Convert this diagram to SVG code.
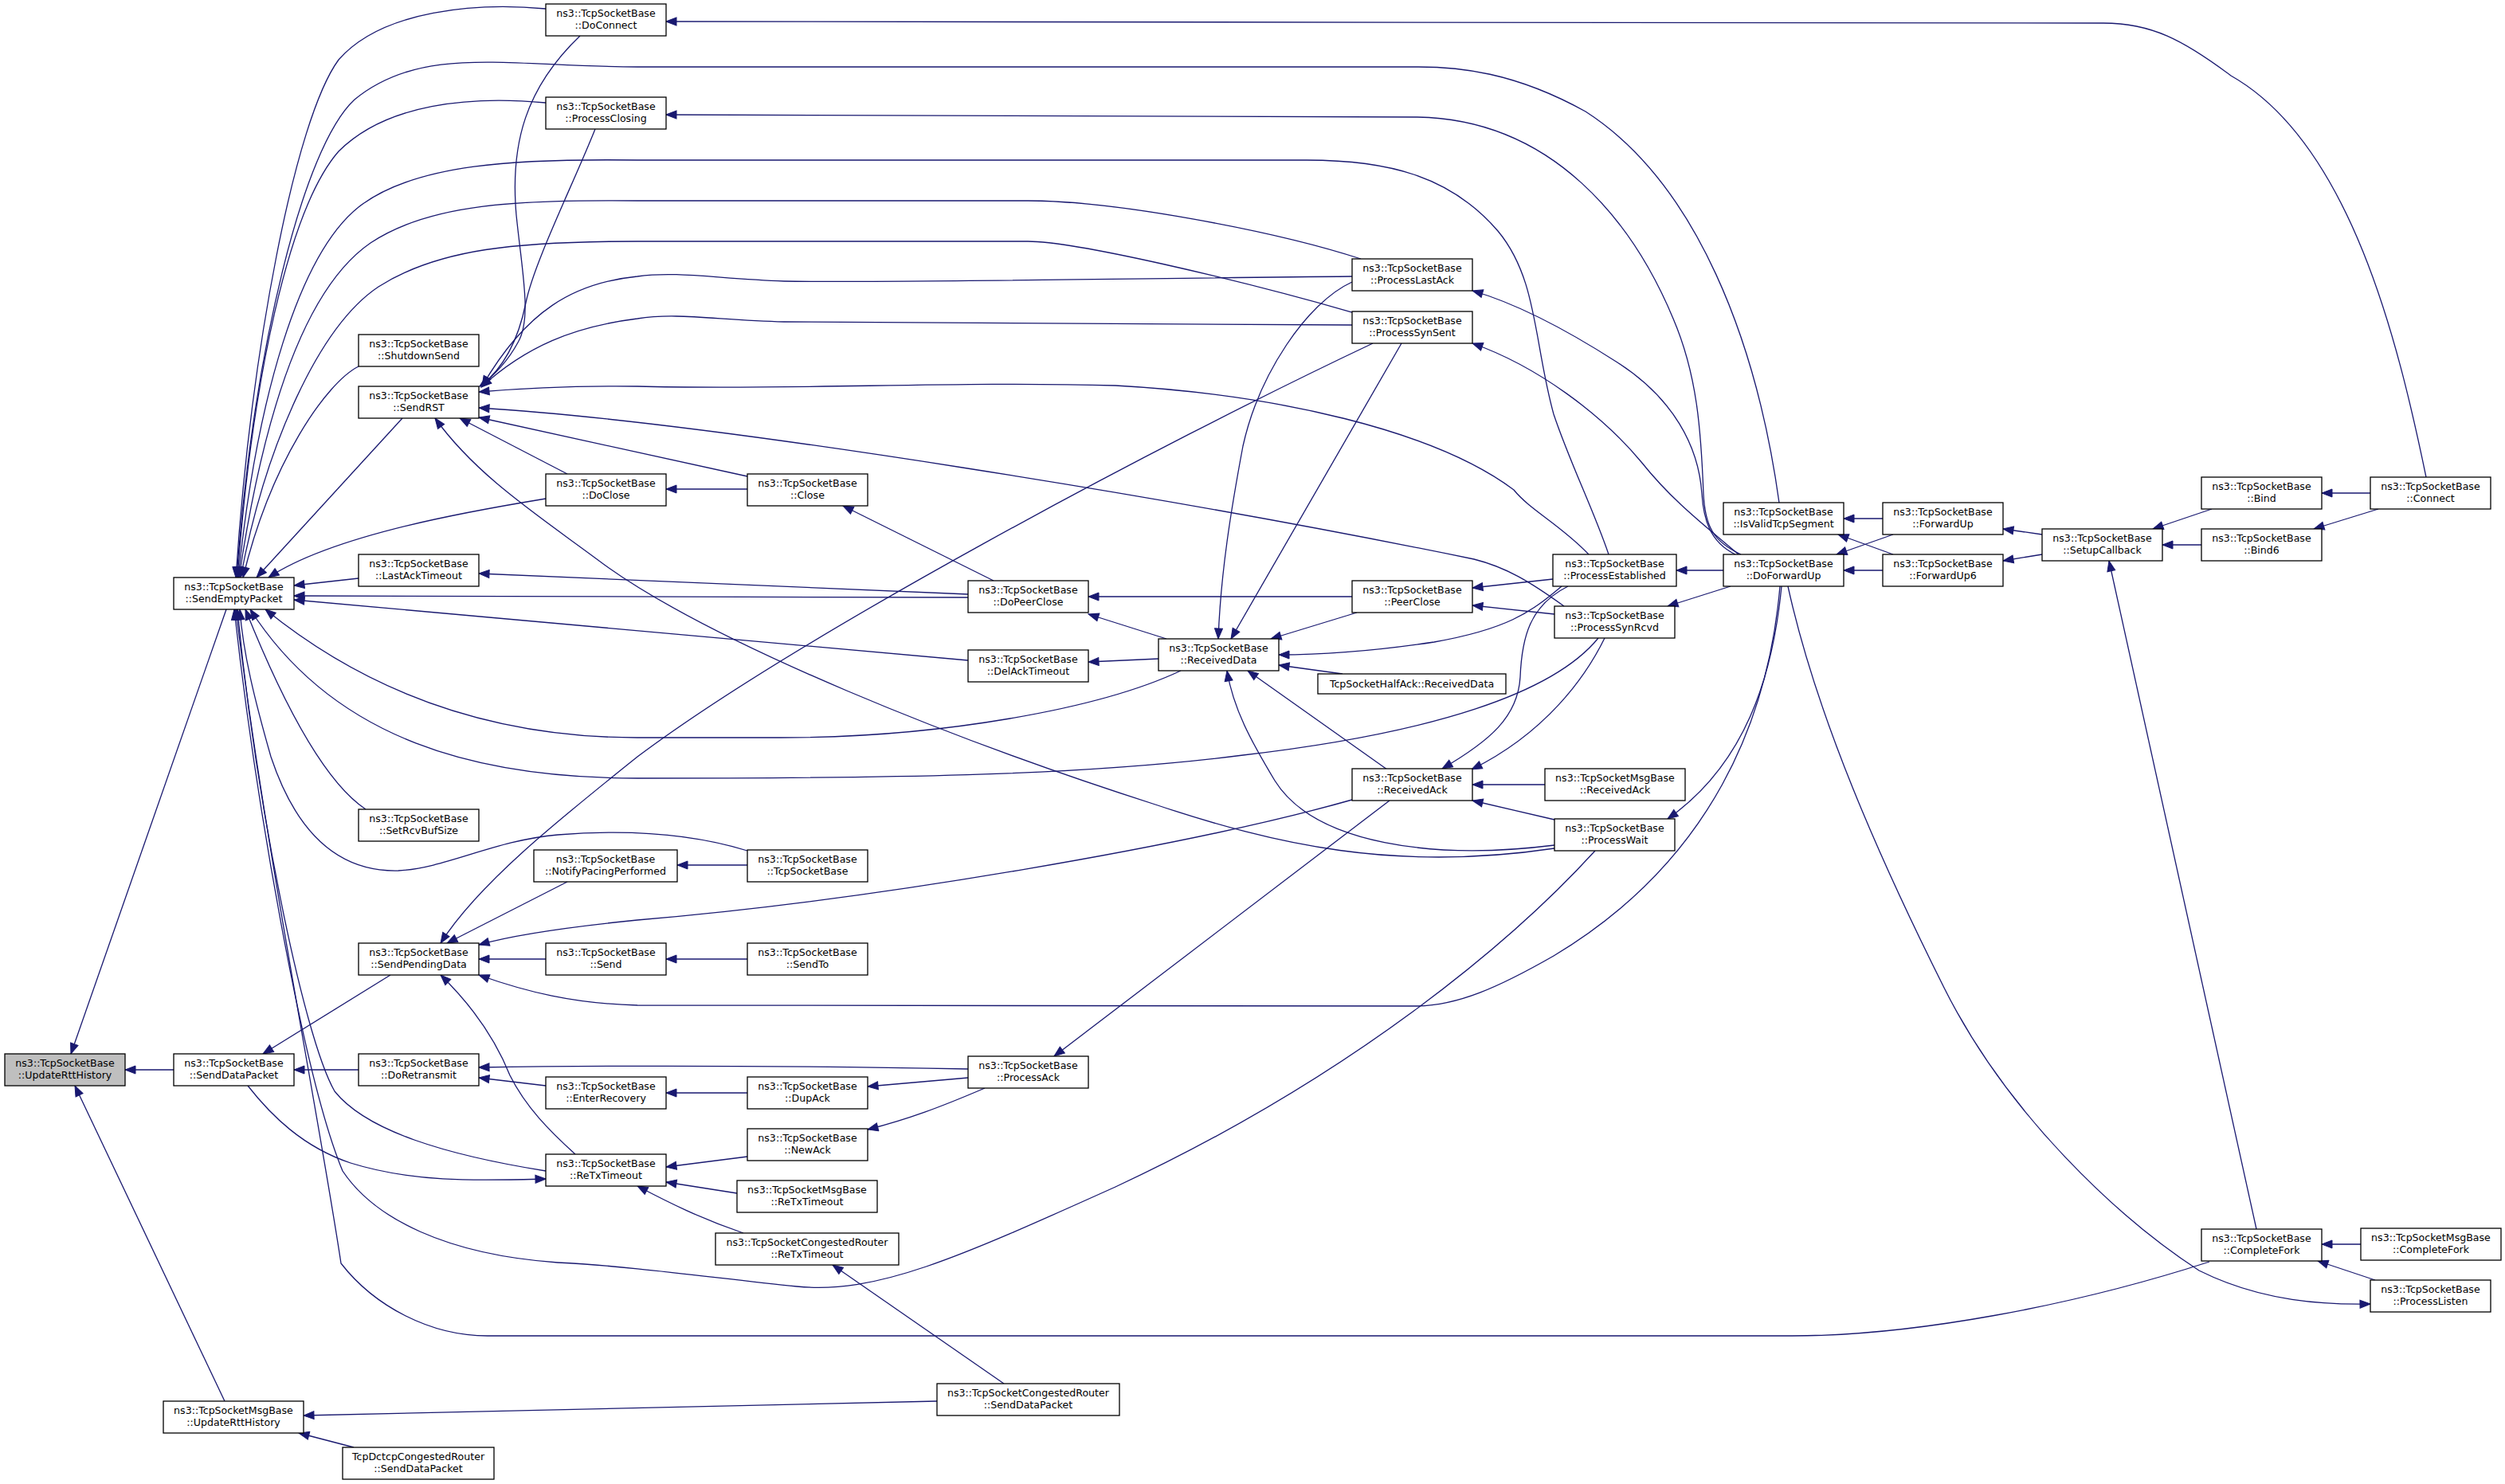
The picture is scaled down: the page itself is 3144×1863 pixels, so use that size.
<svg xmlns="http://www.w3.org/2000/svg" width="3144" height="1863" viewBox="0 0 3144 1863">
<defs>
<style>
.n rect{fill:#fff;stroke:#000;stroke-width:1.3}
.root rect{fill:#bfbfbf}
text{font-family:"DejaVu Sans","Liberation Sans",sans-serif;font-size:12.6px;text-anchor:middle;fill:#000}
#edges path{fill:none;stroke:#191970;stroke-width:1.3;marker-end:url(#arr)}
</style>
<marker id="arr" markerUnits="userSpaceOnUse" markerWidth="15" markerHeight="12" viewBox="0 0 15 12" refX="14" refY="6" orient="auto">
<path d="M1,1 L14,6 L1,11 Z" fill="#191970" stroke="#191970" stroke-width="1"/>
</marker>
</defs>
<rect width="3144" height="1863" fill="#fff"/>
<g id="edges">
<path d="M284,765 L89,1323"/>
<path d="M218,1343 L157,1343"/>
<path d="M282,1759 L94,1363"/>
<path d="M685,11 C600,3 480,12 425,75 C370,150 315,440 296,725"/>
<path d="M2233,631 C2205,430 2130,230 1990,140 C1900,90 1830,84 1780,84 L800,84 C640,84 530,55 445,125 C380,185 318,440 297,725"/>
<path d="M685,129 C590,120 485,130 425,190 C362,262 316,480 298,725"/>
<path d="M2019,696 C2000,640 1970,580 1950,520 C1925,430 1930,350 1880,290 C1820,220 1740,201 1640,201 L800,201 C650,199 520,205 450,260 C375,320 322,500 299,725"/>
<path d="M1708,325 C1600,290 1400,252 1290,252 L800,252 C650,251 540,255 465,305 C385,360 332,510 300,725"/>
<path d="M1697,392 C1550,350 1350,303 1290,303 L800,303 C650,303 550,312 475,360 C400,410 333,560 302,725"/>
<path d="M450,460 C410,480 340,580 305,725"/>
<path d="M505,525 L322,725"/>
<path d="M685,626 C600,640 420,670 337,725"/>
<path d="M450,726 L369,735"/>
<path d="M1215,750 L369,748"/>
<path d="M1215,829 L369,753"/>
<path d="M1215,746 L601,720"/>
<path d="M1482,842 C1380,890 1180,926 980,926 L800,926 C600,926 450,860 333,765"/>
<path d="M2006,801 C1950,870 1800,920 1560,948 C1350,975 1100,977 800,977 C600,977 420,930 314,765"/>
<path d="M459,1016 C420,990 370,920 308,765"/>
<path d="M938,1068 C880,1050 800,1040 700,1048 C620,1055 560,1090 500,1093 C420,1095 370,1040 340,950 C320,880 305,820 301,765"/>
<path d="M685,1470 C560,1450 460,1420 420,1370 C380,1300 320,1000 298,765"/>
<path d="M2002,1068 C1900,1180 1700,1350 1400,1490 C1200,1580 1100,1625 1000,1615 C900,1605 800,1590 700,1585 C560,1575 470,1530 430,1470 C380,1350 320,1000 294,765"/>
<path d="M2773,1584 C2600,1640 2400,1677 2249,1677 L612,1677 C540,1677 470,1640 428,1586 C400,1400 330,1050 296,765"/>
<path d="M1697,347 C1400,350 1100,355 984,353 C900,350 850,340 800,347 C720,355 660,390 605,485"/>
<path d="M1697,408 L984,404 C900,402 850,392 800,400 C720,410 660,435 604,486"/>
<path d="M728,45 C660,110 640,180 648,270 C655,340 668,400 650,430 C638,452 622,470 602,485"/>
<path d="M747,162 C720,230 670,330 660,380 C652,420 635,460 603,485"/>
<path d="M1994,696 C1960,660 1920,640 1900,615 C1800,540 1600,495 1400,484 C1200,478 1000,490 800,485 C720,484 660,487 601,492"/>
<path d="M1963,761 C1920,730 1890,712 1850,702 C1500,630 900,530 601,512"/>
<path d="M938,598 L601,524"/>
<path d="M712,595 L577,525"/>
<path d="M1951,1065 C1750,1095 1600,1060 1450,1010 C1200,930 900,810 760,710 C680,650 600,600 546,525"/>
<path d="M1697,354 C1640,380 1580,470 1560,560 C1545,640 1532,720 1529,802"/>
<path d="M1759,431 L1545,802"/>
<path d="M1723,431 C1450,560 1000,800 800,950 C700,1030 600,1110 553,1184"/>
<path d="M1703,769 L1595,802"/>
<path d="M1960,736 C1920,770 1890,790 1800,806 C1720,818 1660,822 1605,822"/>
<path d="M1685,846 L1605,835"/>
<path d="M1741,966 L1566,842"/>
<path d="M1951,1061 C1800,1080 1650,1060 1600,980 C1570,930 1548,890 1540,842"/>
<path d="M1464,802 L1366,771"/>
<path d="M1454,827 L1366,831"/>
<path d="M1247,729 L1058,635"/>
<path d="M938,614 L836,614"/>
<path d="M1697,749 L1366,749"/>
<path d="M1949,727 L1848,738"/>
<path d="M1951,771 L1848,760"/>
<path d="M1968,736 C1920,760 1910,800 1908,850 C1905,900 1870,930 1810,965"/>
<path d="M2014,801 C1990,850 1940,920 1847,966"/>
<path d="M1939,985 L1848,985"/>
<path d="M1951,1029 L1848,1005"/>
<path d="M1744,1005 L1323,1326"/>
<path d="M1697,1004 C1500,1060 1100,1130 800,1155 C700,1165 640,1175 601,1186"/>
<path d="M2234,736 C2220,900 2150,1080 1950,1200 C1880,1240 1830,1262 1779,1263 L800,1262 C720,1260 660,1245 601,1224"/>
<path d="M2163,716 L2104,716"/>
<path d="M2172,736 L2093,761"/>
<path d="M2236,736 C2225,850 2190,960 2093,1028"/>
<path d="M2178,696 C2145,680 2138,650 2136,620 C2132,560 2100,500 2030,455 C1960,410 1900,380 1848,365"/>
<path d="M2182,696 C2140,660 2100,630 2060,580 C2010,520 1930,460 1848,431"/>
<path d="M2185,696 C2150,680 2140,660 2138,620 C2135,540 2130,470 2100,400 C2050,280 1950,150 1779,147 L836,144"/>
<path d="M2244,736 C2280,900 2360,1080 2440,1240 C2520,1400 2660,1530 2760,1595 C2840,1635 2920,1638 2975,1637"/>
<path d="M3045,599 C3010,430 2950,180 2800,95 C2740,50 2700,29 2640,29 L836,27"/>
<path d="M2363,651 L2314,651"/>
<path d="M2376,696 L2307,671"/>
<path d="M2376,671 L2305,696"/>
<path d="M2363,716 L2314,716"/>
<path d="M2563,671 L2514,664"/>
<path d="M2563,696 L2514,704"/>
<path d="M2776,639 L2702,664"/>
<path d="M2763,684 L2714,684"/>
<path d="M2975,619 L2914,619"/>
<path d="M2985,639 L2904,664"/>
<path d="M2832,1543 L2647,704"/>
<path d="M2963,1562 L2914,1562"/>
<path d="M2981,1607 L2909,1583"/>
<path d="M490,1224 L330,1323"/>
<path d="M722,1449 C690,1420 660,1390 640,1350 C620,1300 590,1260 553,1224"/>
<path d="M311,1363 C340,1400 380,1440 440,1460 C520,1485 600,1482 685,1480"/>
<path d="M450,1343 L369,1343"/>
<path d="M1215,1342 C1000,1338 800,1337 601,1340"/>
<path d="M685,1363 L601,1353"/>
<path d="M938,1372 L836,1372"/>
<path d="M1215,1353 L1089,1364"/>
<path d="M1236,1366 C1180,1390 1140,1405 1089,1418"/>
<path d="M938,1452 L836,1465"/>
<path d="M925,1498 L836,1484"/>
<path d="M933,1548 C880,1530 840,1510 800,1489"/>
<path d="M1260,1737 L1045,1588"/>
<path d="M1176,1759 C1000,1762 700,1768 381,1777"/>
<path d="M444,1817 L375,1799"/>
<path d="M685,1204 L601,1204"/>
<path d="M938,1204 L836,1204"/>
<path d="M712,1107 L561,1184"/>
<path d="M938,1086 L850,1086"/>
</g>
<g id="n_root" class="n root"><rect x="6" y="1323" width="151" height="40"/><text x="81.5" y="1339.2">ns3::TcpSocketBase</text><text x="81.5" y="1353.9">::UpdateRttHistory</text></g>
<g id="n_SendEmptyPacket" class="n"><rect x="218" y="725" width="151" height="40"/><text x="293.5" y="741.2">ns3::TcpSocketBase</text><text x="293.5" y="755.9">::SendEmptyPacket</text></g>
<g id="n_SendDataPacket" class="n"><rect x="218" y="1323" width="151" height="40"/><text x="293.5" y="1339.2">ns3::TcpSocketBase</text><text x="293.5" y="1353.9">::SendDataPacket</text></g>
<g id="n_MsgUpdateRttHistory" class="n"><rect x="205" y="1759" width="176" height="40"/><text x="293" y="1775.2">ns3::TcpSocketMsgBase</text><text x="293" y="1789.9">::UpdateRttHistory</text></g>
<g id="n_ShutdownSend" class="n"><rect x="450" y="420" width="151" height="40"/><text x="525.5" y="436.2">ns3::TcpSocketBase</text><text x="525.5" y="450.9">::ShutdownSend</text></g>
<g id="n_SendRST" class="n"><rect x="450" y="485" width="151" height="40"/><text x="525.5" y="501.2">ns3::TcpSocketBase</text><text x="525.5" y="515.9">::SendRST</text></g>
<g id="n_LastAckTimeout" class="n"><rect x="450" y="696" width="151" height="40"/><text x="525.5" y="712.2">ns3::TcpSocketBase</text><text x="525.5" y="726.9">::LastAckTimeout</text></g>
<g id="n_SetRcvBufSize" class="n"><rect x="450" y="1016" width="151" height="40"/><text x="525.5" y="1032.2">ns3::TcpSocketBase</text><text x="525.5" y="1046.9">::SetRcvBufSize</text></g>
<g id="n_SendPendingData" class="n"><rect x="450" y="1184" width="151" height="40"/><text x="525.5" y="1200.2">ns3::TcpSocketBase</text><text x="525.5" y="1214.9">::SendPendingData</text></g>
<g id="n_DoRetransmit" class="n"><rect x="450" y="1323" width="151" height="40"/><text x="525.5" y="1339.2">ns3::TcpSocketBase</text><text x="525.5" y="1353.9">::DoRetransmit</text></g>
<g id="n_DctcpSendDataPacket" class="n"><rect x="430" y="1817" width="190" height="40"/><text x="525" y="1833.2">TcpDctcpCongestedRouter</text><text x="525" y="1847.9">::SendDataPacket</text></g>
<g id="n_DoConnect" class="n"><rect x="685" y="5" width="151" height="40"/><text x="760.5" y="21.2">ns3::TcpSocketBase</text><text x="760.5" y="35.9">::DoConnect</text></g>
<g id="n_ProcessClosing" class="n"><rect x="685" y="122" width="151" height="40"/><text x="760.5" y="138.2">ns3::TcpSocketBase</text><text x="760.5" y="152.9">::ProcessClosing</text></g>
<g id="n_DoClose" class="n"><rect x="685" y="595" width="151" height="40"/><text x="760.5" y="611.2">ns3::TcpSocketBase</text><text x="760.5" y="625.9">::DoClose</text></g>
<g id="n_NotifyPacingPerformed" class="n"><rect x="670" y="1067" width="180" height="40"/><text x="760" y="1083.2">ns3::TcpSocketBase</text><text x="760" y="1097.9">::NotifyPacingPerformed</text></g>
<g id="n_Send" class="n"><rect x="685" y="1184" width="151" height="40"/><text x="760.5" y="1200.2">ns3::TcpSocketBase</text><text x="760.5" y="1214.9">::Send</text></g>
<g id="n_EnterRecovery" class="n"><rect x="685" y="1352" width="151" height="40"/><text x="760.5" y="1368.2">ns3::TcpSocketBase</text><text x="760.5" y="1382.9">::EnterRecovery</text></g>
<g id="n_ReTxTimeout" class="n"><rect x="685" y="1449" width="151" height="40"/><text x="760.5" y="1465.2">ns3::TcpSocketBase</text><text x="760.5" y="1479.9">::ReTxTimeout</text></g>
<g id="n_Close" class="n"><rect x="938" y="595" width="151" height="40"/><text x="1013.5" y="611.2">ns3::TcpSocketBase</text><text x="1013.5" y="625.9">::Close</text></g>
<g id="n_TcpSocketBaseCtor" class="n"><rect x="938" y="1067" width="151" height="40"/><text x="1013.5" y="1083.2">ns3::TcpSocketBase</text><text x="1013.5" y="1097.9">::TcpSocketBase</text></g>
<g id="n_SendTo" class="n"><rect x="938" y="1184" width="151" height="40"/><text x="1013.5" y="1200.2">ns3::TcpSocketBase</text><text x="1013.5" y="1214.9">::SendTo</text></g>
<g id="n_DupAck" class="n"><rect x="938" y="1352" width="151" height="40"/><text x="1013.5" y="1368.2">ns3::TcpSocketBase</text><text x="1013.5" y="1382.9">::DupAck</text></g>
<g id="n_NewAck" class="n"><rect x="938" y="1417" width="151" height="40"/><text x="1013.5" y="1433.2">ns3::TcpSocketBase</text><text x="1013.5" y="1447.9">::NewAck</text></g>
<g id="n_MsgReTxTimeout" class="n"><rect x="925" y="1482" width="176" height="40"/><text x="1013" y="1498.2">ns3::TcpSocketMsgBase</text><text x="1013" y="1512.9">::ReTxTimeout</text></g>
<g id="n_CongReTxTimeout" class="n"><rect x="898" y="1548" width="230" height="40"/><text x="1013" y="1564.2">ns3::TcpSocketCongestedRouter</text><text x="1013" y="1578.9">::ReTxTimeout</text></g>
<g id="n_DoPeerClose" class="n"><rect x="1215" y="729" width="151" height="40"/><text x="1290.5" y="745.2">ns3::TcpSocketBase</text><text x="1290.5" y="759.9">::DoPeerClose</text></g>
<g id="n_DelAckTimeout" class="n"><rect x="1215" y="816" width="151" height="40"/><text x="1290.5" y="832.2">ns3::TcpSocketBase</text><text x="1290.5" y="846.9">::DelAckTimeout</text></g>
<g id="n_ProcessAck" class="n"><rect x="1215" y="1326" width="151" height="40"/><text x="1290.5" y="1342.2">ns3::TcpSocketBase</text><text x="1290.5" y="1356.9">::ProcessAck</text></g>
<g id="n_CongSendDataPacket" class="n"><rect x="1176" y="1737" width="229" height="40"/><text x="1290.5" y="1753.2">ns3::TcpSocketCongestedRouter</text><text x="1290.5" y="1767.9">::SendDataPacket</text></g>
<g id="n_ReceivedData" class="n"><rect x="1454" y="802" width="151" height="40"/><text x="1529.5" y="818.2">ns3::TcpSocketBase</text><text x="1529.5" y="832.9">::ReceivedData</text></g>
<g id="n_ProcessLastAck" class="n"><rect x="1697" y="325" width="151" height="40"/><text x="1772.5" y="341.2">ns3::TcpSocketBase</text><text x="1772.5" y="355.9">::ProcessLastAck</text></g>
<g id="n_ProcessSynSent" class="n"><rect x="1697" y="391" width="151" height="40"/><text x="1772.5" y="407.2">ns3::TcpSocketBase</text><text x="1772.5" y="421.9">::ProcessSynSent</text></g>
<g id="n_PeerClose" class="n"><rect x="1697" y="729" width="151" height="40"/><text x="1772.5" y="745.2">ns3::TcpSocketBase</text><text x="1772.5" y="759.9">::PeerClose</text></g>
<g id="n_HalfAckReceivedData" class="n"><rect x="1654" y="846" width="236" height="25"/><text x="1772" y="863">TcpSocketHalfAck::ReceivedData</text></g>
<g id="n_ReceivedAck" class="n"><rect x="1697" y="965" width="151" height="40"/><text x="1772.5" y="981.2">ns3::TcpSocketBase</text><text x="1772.5" y="995.9">::ReceivedAck</text></g>
<g id="n_ProcessEstablished" class="n"><rect x="1949" y="696" width="155" height="40"/><text x="2026.5" y="712.2">ns3::TcpSocketBase</text><text x="2026.5" y="726.9">::ProcessEstablished</text></g>
<g id="n_ProcessSynRcvd" class="n"><rect x="1951" y="761" width="151" height="40"/><text x="2026.5" y="777.2">ns3::TcpSocketBase</text><text x="2026.5" y="791.9">::ProcessSynRcvd</text></g>
<g id="n_MsgReceivedAck" class="n"><rect x="1939" y="965" width="176" height="40"/><text x="2027" y="981.2">ns3::TcpSocketMsgBase</text><text x="2027" y="995.9">::ReceivedAck</text></g>
<g id="n_ProcessWait" class="n"><rect x="1951" y="1028" width="151" height="40"/><text x="2026.5" y="1044.2">ns3::TcpSocketBase</text><text x="2026.5" y="1058.9">::ProcessWait</text></g>
<g id="n_IsValidTcpSegment" class="n"><rect x="2163" y="631" width="151" height="40"/><text x="2238.5" y="647.2">ns3::TcpSocketBase</text><text x="2238.5" y="661.9">::IsValidTcpSegment</text></g>
<g id="n_DoForwardUp" class="n"><rect x="2163" y="696" width="151" height="40"/><text x="2238.5" y="712.2">ns3::TcpSocketBase</text><text x="2238.5" y="726.9">::DoForwardUp</text></g>
<g id="n_ForwardUp" class="n"><rect x="2363" y="631" width="151" height="40"/><text x="2438.5" y="647.2">ns3::TcpSocketBase</text><text x="2438.5" y="661.9">::ForwardUp</text></g>
<g id="n_ForwardUp6" class="n"><rect x="2363" y="696" width="151" height="40"/><text x="2438.5" y="712.2">ns3::TcpSocketBase</text><text x="2438.5" y="726.9">::ForwardUp6</text></g>
<g id="n_SetupCallback" class="n"><rect x="2563" y="664" width="151" height="40"/><text x="2638.5" y="680.2">ns3::TcpSocketBase</text><text x="2638.5" y="694.9">::SetupCallback</text></g>
<g id="n_Bind" class="n"><rect x="2763" y="599" width="151" height="40"/><text x="2838.5" y="615.2">ns3::TcpSocketBase</text><text x="2838.5" y="629.9">::Bind</text></g>
<g id="n_Bind6" class="n"><rect x="2763" y="664" width="151" height="40"/><text x="2838.5" y="680.2">ns3::TcpSocketBase</text><text x="2838.5" y="694.9">::Bind6</text></g>
<g id="n_CompleteFork" class="n"><rect x="2763" y="1543" width="151" height="40"/><text x="2838.5" y="1559.2">ns3::TcpSocketBase</text><text x="2838.5" y="1573.9">::CompleteFork</text></g>
<g id="n_Connect" class="n"><rect x="2975" y="599" width="151" height="40"/><text x="3050.5" y="615.2">ns3::TcpSocketBase</text><text x="3050.5" y="629.9">::Connect</text></g>
<g id="n_MsgCompleteFork" class="n"><rect x="2963" y="1542" width="176" height="40"/><text x="3051" y="1558.2">ns3::TcpSocketMsgBase</text><text x="3051" y="1572.9">::CompleteFork</text></g>
<g id="n_ProcessListen" class="n"><rect x="2975" y="1607" width="151" height="40"/><text x="3050.5" y="1623.2">ns3::TcpSocketBase</text><text x="3050.5" y="1637.9">::ProcessListen</text></g>
</svg>
